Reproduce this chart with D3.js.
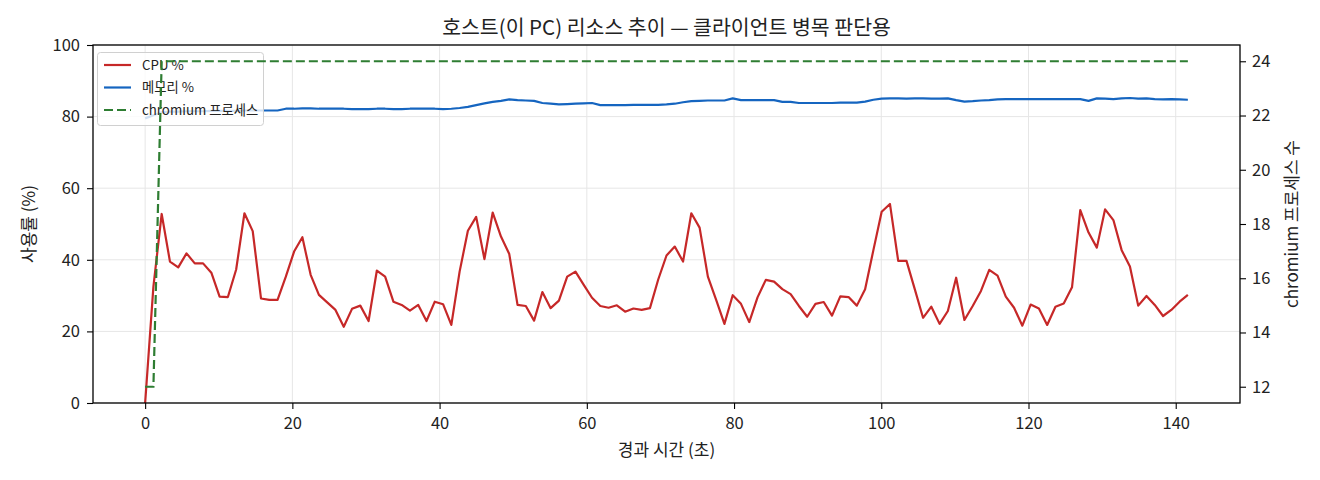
<!DOCTYPE html>
<html>
<head>
<meta charset="utf-8">
<script src="https://cdn.jsdelivr.net/npm/d3@7"></script>
<style>
body { margin: 0; background: #fff; }
svg text { font-family: "Noto Sans CJK KR", "Noto Sans", sans-serif; fill: #222; }
</style>
</head>
<body>
<div id="chart"></div>
<script>
"use strict"

// samples, one every ~1.12 s
var SAMPLE_SEC = 1.1242;

var cpuPct = [
	0.0, 32.5, 52.8, 39.5, 37.9, 41.8, 39.0, 39.0, 36.4, 29.7,
	29.6, 37.3, 53.0, 48.0, 29.2, 28.8, 28.8, 35.3, 42.3, 46.3,
	35.8, 30.2, 28.1, 26.0, 21.3, 26.3, 27.2, 22.9, 37.0, 35.3,
	28.3, 27.4, 25.8, 27.4, 22.9, 28.3, 27.6, 21.8, 36.7, 48.1,
	52.0, 40.2, 53.2, 46.5, 41.6, 27.4, 27.1, 23.0, 31.0, 26.5,
	28.6, 35.3, 36.7, 33.0, 29.4, 27.1, 26.6, 27.3, 25.5, 26.4,
	26.0, 26.5, 34.5, 41.2, 43.7, 39.5, 53.0, 49.0, 35.3, 28.8,
	22.1, 30.1, 27.7, 22.6, 29.5, 34.4, 33.9, 31.8, 30.4, 27.1,
	24.1, 27.7, 28.2, 24.4, 29.8, 29.6, 27.2, 31.8, 42.7, 53.4,
	55.6, 39.7, 39.7, 31.8, 23.8, 26.9, 22.1, 25.7, 35.0, 23.2,
	27.1, 31.3, 37.2, 35.6, 29.7, 26.6, 21.6, 27.5, 26.4, 21.8,
	26.9, 27.8, 32.3, 53.9, 47.6, 43.4, 54.1, 51.1, 42.7, 38.1,
	27.2, 29.9, 27.4, 24.3, 26.0, 28.3, 30.2
];

var memPct = [
	79.5, 80.4, 81.2, 81.4, 81.4, 81.5, 81.5, 81.5, 81.6, 81.6,
	81.6, 81.6, 81.7, 81.7, 81.7, 81.7, 81.7, 82.2, 82.2, 82.3,
	82.3, 82.2, 82.2, 82.2, 82.2, 82.1, 82.1, 82.1, 82.2, 82.2,
	82.1, 82.1, 82.2, 82.2, 82.2, 82.2, 82.1, 82.2, 82.4, 82.7,
	83.2, 83.7, 84.1, 84.4, 84.8, 84.6, 84.5, 84.4, 83.8, 83.6,
	83.4, 83.5, 83.6, 83.7, 83.8, 83.2, 83.2, 83.2, 83.2, 83.3,
	83.3, 83.3, 83.3, 83.4, 83.6, 84.0, 84.3, 84.4, 84.5, 84.5,
	84.5, 85.1, 84.6, 84.6, 84.6, 84.6, 84.6, 84.1, 84.1, 83.8,
	83.8, 83.8, 83.8, 83.8, 83.9, 83.9, 83.9, 84.2, 84.7, 85.0,
	85.1, 85.1, 85.0, 85.1, 85.1, 85.0, 85.0, 85.1, 84.6, 84.2,
	84.3, 84.5, 84.6, 84.8, 84.9, 84.9, 84.9, 84.9, 84.9, 84.9,
	84.9, 84.9, 84.9, 84.9, 84.4, 85.1, 85.0, 84.9, 85.1, 85.2,
	85.0, 85.1, 84.9, 84.8, 84.9, 84.8, 84.7
];

var procCount = [
	12, 12, 24, 24, 24, 24, 24, 24, 24, 24,
	24, 24, 24, 24, 24, 24, 24, 24, 24, 24,
	24, 24, 24, 24, 24, 24, 24, 24, 24, 24,
	24, 24, 24, 24, 24, 24, 24, 24, 24, 24,
	24, 24, 24, 24, 24, 24, 24, 24, 24, 24,
	24, 24, 24, 24, 24, 24, 24, 24, 24, 24,
	24, 24, 24, 24, 24, 24, 24, 24, 24, 24,
	24, 24, 24, 24, 24, 24, 24, 24, 24, 24,
	24, 24, 24, 24, 24, 24, 24, 24, 24, 24,
	24, 24, 24, 24, 24, 24, 24, 24, 24, 24,
	24, 24, 24, 24, 24, 24, 24, 24, 24, 24,
	24, 24, 24, 24, 24, 24, 24, 24, 24, 24,
	24, 24, 24, 24, 24, 24, 24
];

var xTicks = [0, 20, 40, 60, 80, 100, 120, 140];
var leftTicks = [0, 20, 40, 60, 80, 100];
var rightTicks = [12, 14, 16, 18, 20, 22, 24];

var seriesNames = ["CPU %", "메모리 %", "chromium 프로세스"];
var seriesColors = ["#c62828", "#1565c0", "#2e7d32"];

var titleText = "호스트(이 PC) 리소스 추이 — 클라이언트 병목 판단용";
var xLabel = "경과 시간 (초)";
var yLabelLeft = "사용률 (%)";
var yLabelRight = "chromium 프로세스 수";

//
// layout
//
var W = 1320, H = 480;
var plot = {left: 93, top: 45, right: 1240, bottom: 403};

var times = cpuPct.map(function(d, i) { return i * SAMPLE_SEC; });
var tMax = d3.max(times);
var pMin = d3.min(procCount), pMax = d3.max(procCount);

// matplotlib-like 5% margins
var x = d3.scaleLinear()
	.domain([-0.05 * tMax, tMax * 1.05])
	.range([plot.left, plot.right]);
var yL = d3.scaleLinear()
	.domain([0, 100])
	.range([plot.bottom, plot.top]);
var pPad = (pMax - pMin) * 0.05;
var yR = d3.scaleLinear()
	.domain([pMin - pPad, pMax + pPad])
	.range([plot.bottom, plot.top]);

var svg = d3.select("#chart")
	.append("svg")
	.attr("width", W)
	.attr("height", H)
	;

svg.append("defs").append("clipPath").attr("id", "clipPlot")
	.append("rect")
	.attr("x", plot.left)
	.attr("y", plot.top)
	.attr("width", plot.right - plot.left)
	.attr("height", plot.bottom - plot.top)
	;

// grid
var grid = svg.append("g").attr("class", "grid");
grid.selectAll("line.gx")
	.data(xTicks)
	.enter().append("line")
	.attr("class", "gx")
	.attr("x1", function(d) { return x(d); })
	.attr("x2", function(d) { return x(d); })
	.attr("y1", plot.top)
	.attr("y2", plot.bottom)
	.attr("stroke", "#e6e6e6")
	.attr("stroke-width", 1)
	;
grid.selectAll("line.gy")
	.data(leftTicks)
	.enter().append("line")
	.attr("class", "gy")
	.attr("x1", plot.left)
	.attr("x2", plot.right)
	.attr("y1", function(d) { return yL(d); })
	.attr("y2", function(d) { return yL(d); })
	.attr("stroke", "#e6e6e6")
	.attr("stroke-width", 1)
	;

var lineL = function(arr) {
	return d3.line()
		.x(function(d, i) { return x(times[i]); })
		.y(function(d) { return yL(d); })(arr);
};

var marks = svg.append("g").attr("clip-path", "url(#clipPlot)");
marks.append("path")
	.attr("d", lineL(cpuPct))
	.attr("fill", "none")
	.attr("stroke", seriesColors[0])
	.attr("stroke-width", 2.2)
	.attr("stroke-linejoin", "round")
	;
marks.append("path")
	.attr("d", lineL(memPct))
	.attr("fill", "none")
	.attr("stroke", seriesColors[1])
	.attr("stroke-width", 2.2)
	.attr("stroke-linejoin", "round")
	;

// legend (belongs to left axes, so the process line is drawn over it)
var lg = svg.append("g").attr("class", "legend");
lg.append("rect")
	.attr("x", 97.5)
	.attr("y", 52.5)
	.attr("width", 166)
	.attr("height", 73)
	.attr("rx", 3)
	.attr("fill", "#fff")
	.attr("fill-opacity", 0.8)
	.attr("stroke", "#d0d0d0")
	.attr("stroke-width", 1)
	;
var legendRows = lg.selectAll("g.row")
	.data(seriesNames)
	.enter().append("g")
	.attr("class", "row")
	.attr("transform", function(d, i) { return "translate(104," + (65 + i * 22.5) + ")"; })
	;
legendRows.append("line")
	.attr("x1", 0)
	.attr("x2", 27)
	.attr("y1", 0)
	.attr("y2", 0)
	.attr("stroke", function(d, i) { return seriesColors[i]; })
	.attr("stroke-width", 2.2)
	.attr("stroke-dasharray", function(d, i) { return i == 2 ? "9,4" : null; })
	;
legendRows.append("text")
	.attr("x", 38)
	.attr("y", 0)
	.attr("dy", "0.35em")
	.style("font-size", "13.3px")
	.text(function(d) { return d; })
	;

// twin axis line
var marksR = svg.append("g").attr("clip-path", "url(#clipPlot)");
marksR.append("path")
	.attr("d", d3.line()
		.x(function(d, i) { return x(times[i]); })
		.y(function(d) { return yR(d); })(procCount))
	.attr("fill", "none")
	.attr("stroke", seriesColors[2])
	.attr("stroke-width", 2.2)
	.attr("stroke-dasharray", "9,4")
	;

// frame
svg.append("rect")
	.attr("x", plot.left)
	.attr("y", plot.top)
	.attr("width", plot.right - plot.left)
	.attr("height", plot.bottom - plot.top)
	.attr("fill", "none")
	.attr("stroke", "#000")
	.attr("stroke-width", 1.3)
	;

function styleAxis(g) {
	g.select(".domain").remove();
	g.selectAll(".tick line").attr("stroke", "#000").attr("stroke-width", 1.1);
	g.selectAll(".tick text").style("font-size", "16.5px").attr("fill", "#222");
}

svg.append("g")
	.attr("transform", "translate(0," + plot.bottom + ")")
	.call(d3.axisBottom(x).tickValues(xTicks).tickSize(6).tickPadding(8).tickFormat(d3.format("d")))
	.call(styleAxis)
	;
svg.append("g")
	.attr("transform", "translate(" + plot.left + ",0)")
	.call(d3.axisLeft(yL).tickValues(leftTicks).tickSize(6).tickPadding(7).tickFormat(d3.format("d")))
	.call(styleAxis)
	;
svg.append("g")
	.attr("transform", "translate(" + plot.right + ",0)")
	.call(d3.axisRight(yR).tickValues(rightTicks).tickSize(6).tickPadding(6).tickFormat(d3.format("d")))
	.call(styleAxis)
	;

// texts
svg.append("text")
	.attr("x", (plot.left + plot.right) / 2)
	.attr("y", 28)
	.attr("dy", "0.35em")
	.attr("text-anchor", "middle")
	.style("font-size", "20.5px")
	.text(titleText)
	;
svg.append("text")
	.attr("x", (plot.left + plot.right) / 2)
	.attr("y", 450)
	.attr("dy", "0.35em")
	.attr("text-anchor", "middle")
	.style("font-size", "17px")
	.text(xLabel)
	;
svg.append("text")
	.attr("transform", "translate(29," + ((plot.top + plot.bottom) / 2) + ") rotate(-90)")
	.attr("dy", "0.35em")
	.attr("text-anchor", "middle")
	.style("font-size", "17px")
	.text(yLabelLeft)
	;
svg.append("text")
	.attr("transform", "translate(1292," + ((plot.top + plot.bottom) / 2) + ") rotate(-90)")
	.attr("dy", "0.35em")
	.attr("text-anchor", "middle")
	.style("font-size", "17px")
	.text(yLabelRight)
	;
</script>
</body>
</html>
